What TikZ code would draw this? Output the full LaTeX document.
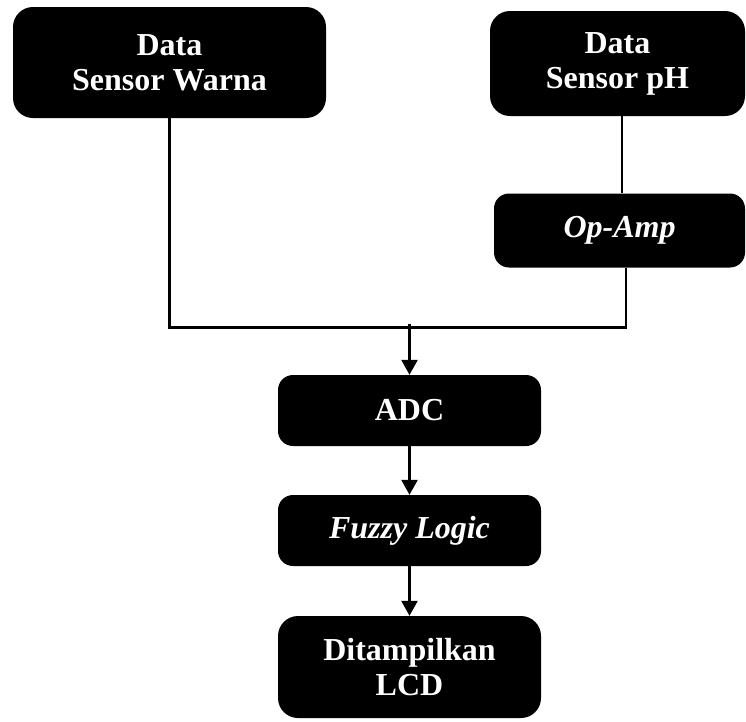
\documentclass[tikz,border=0pt]{standalone}
\usepackage{fontspec}
\setmainfont{Liberation Serif}
\usepackage{tikz}
\usetikzlibrary{shapes, arrows.meta, positioning, calc}

\tikzset{
  blok/.style={rectangle, rounded corners=15pt, fill=black, text=white,
    font=\bfseries\fontsize{32}{35}\selectfont, align=center, inner sep=0pt,
    minimum width=263pt, minimum height=71pt},
  garis/.style={line width=2.5pt, line join=miter},
  panah/.style={line width=2.5pt, -{Triangle[width=16pt,length=15pt]}}
}

\begin{document}
\begin{tikzpicture}[x=1pt,y=-1pt]
  \useasboundingbox (0,0) rectangle (746,721);

  % Blok masukan
  \node[blok, rounded corners=20pt, minimum width=313pt, minimum height=111pt] (warna) at (169.5,62.5) {Data\\Sensor Warna};
  \node[blok, rounded corners=20pt, minimum width=255pt, minimum height=105pt] (ph) at (617.5,63.5) {Data\\Sensor pH};
  \node[blok, minimum width=251pt, minimum height=74pt] (opamp) at (619.5,230.5) {\textit{Op-Amp}};

  % Blok proses
  \node[blok] (adc) at (409.5,410.5) {ADC};
  \node[blok] (fuzzy) at (409.5,530.5) {\textit{Fuzzy Logic}};
  \node[blok, rounded corners=20pt, minimum height=102pt] (lcd) at (409.5,667) {Ditampilkan\\LCD};

  % Titik gabung
  \coordinate (gabung) at (409.5,327.5);

  % Garis penghubung
  \draw[garis] ([xshift=4.5pt]ph.south) -- ([xshift=4.5pt]ph.south |- opamp.north);
  \draw[garis] (warna.south) |- ([xshift=6.5pt]opamp.south |- gabung) -- ([xshift=6.5pt]opamp.south);
  \draw[panah] ([yshift=4pt]gabung) -- (adc);
  \draw[panah] (adc) -- (fuzzy);
  \draw[panah] (fuzzy) -- (lcd);
\end{tikzpicture}
\end{document}
